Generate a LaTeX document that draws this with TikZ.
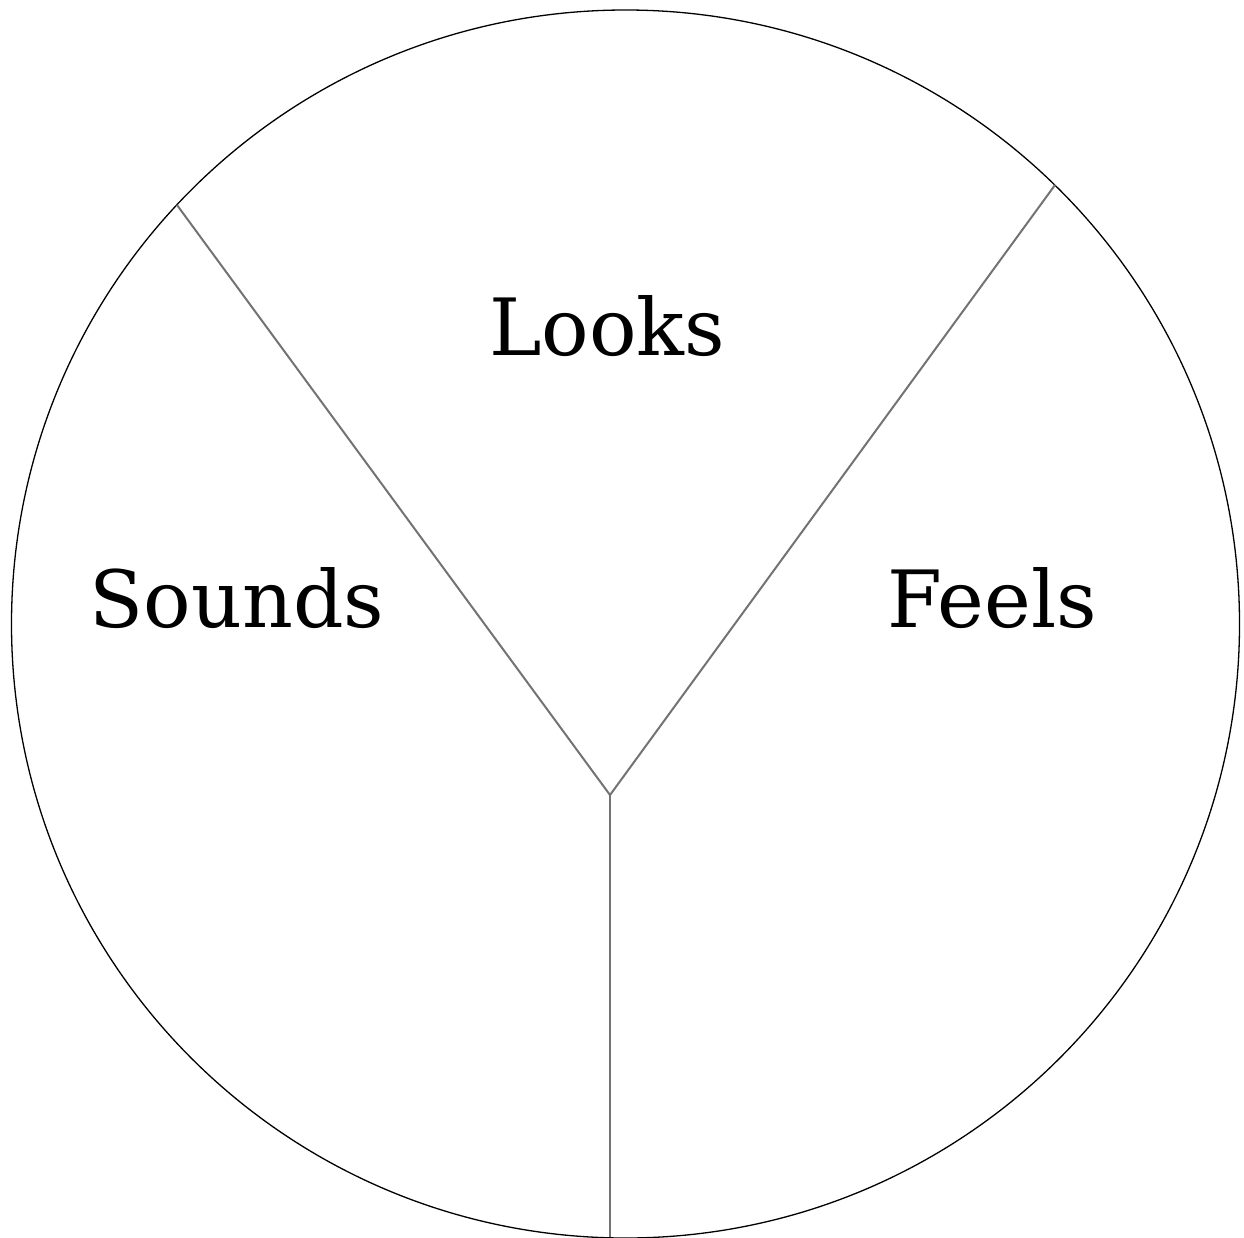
\documentclass[tikz,border=0pt]{standalone}
\usepackage{fontspec}
\setmainfont{DejaVu Serif}
\begin{document}
\begin{tikzpicture}[x=1pt,y=-1pt,
  divider/.style={draw=black!55,line width=2pt},
  rim/.style={draw=black,line width=1.3pt},
  label/.style={anchor=base,font=\fontsize{79}{90}\selectfont,inner sep=0pt}]
\useasboundingbox (0,0) rectangle (1244,1237);
\draw[rim] (625.5,624) circle[radius=614];
\coordinate (c) at (610,795);
\coordinate (tl) at (177,205);
\coordinate (tr) at (1055,185);
\coordinate (b) at (610,1237);
\draw[divider] (tl) -- (c) -- (tr);
\draw[divider] (c) -- (b);
\node[label] (looks) at (607,355) {Looks};
\node[label] (sounds) at (237,627) {Sounds};
\node[label] (feels) at (992,627) {Feels};
\end{tikzpicture}
\end{document}
